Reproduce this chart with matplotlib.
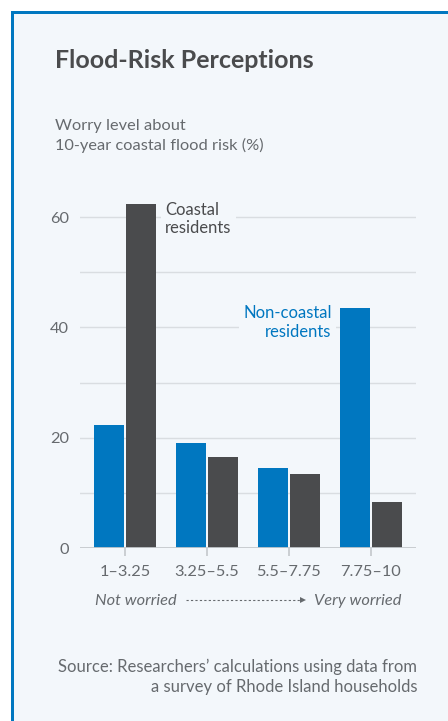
import matplotlib.pyplot as plt
from matplotlib.patches import Rectangle

# data
categorias = ['1–3.25', '3.25–5.5', '5.5–7.75', '7.75–10']
nao_costeiros = [22.3, 19.0, 14.5, 43.5]
costeiros = [62.4, 16.5, 13.4, 8.3]
yticks = [0, 20, 40, 60]

AZUL = '#0077c0'
CINZA_ESCURO = '#4a4b4d'
CINZA_TEXTO = '#666a6e'
FUNDO = '#f3f7fb'

plt.rcParams['font.family'] = ['Lato', 'DejaVu Sans']

W, H = 448, 721
fig = plt.figure(figsize=(W / 100, H / 100), dpi=100)
fig.patch.set_facecolor(FUNDO)

# margem branca e borda azul em cima e a esquerda
fig.patches.append(Rectangle((0, 0), 11 / W, 1, transform=fig.transFigure,
                             facecolor='white', edgecolor='none', zorder=0))
fig.patches.append(Rectangle((0, 1 - 11 / H), 1, 11 / H, transform=fig.transFigure,
                             facecolor='white', edgecolor='none', zorder=0))
fig.patches.append(Rectangle((11 / W, 0), 3 / W, 1 - 11 / H, transform=fig.transFigure,
                             facecolor=AZUL, edgecolor='none', zorder=1))
fig.patches.append(Rectangle((11 / W, 1 - 14 / H), 1, 3 / H, transform=fig.transFigure,
                             facecolor=AZUL, edgecolor='none', zorder=1))

ax_top = 548 - 66 * 5.516
ax = fig.add_axes([80 / W, (H - 548) / H, 336 / W, (548 - ax_top) / H])
ax.set_facecolor('none')
ax.set_zorder(3)

x = range(len(categorias))
largura = 0.366
desl = 0.2
ax.bar([i - desl for i in x], nao_costeiros, width=largura, color=AZUL, zorder=3)
ax.bar([i + desl for i in x], costeiros, width=largura, color=CINZA_ESCURO, zorder=3)

ax.set_xlim(-0.55, 3.55)
ax.set_ylim(0, 66)

for v in [10, 20, 30, 40, 50, 60]:
    ax.axhline(v, color='#d9dde1', lw=1, zorder=1)
ax.axhline(0, color='#c4c8cc', lw=2, zorder=4)

for s in ax.spines.values():
    s.set_visible(False)

ax.set_yticks(yticks)
ax.set_yticklabels([str(t) for t in yticks], fontsize=11.8, color=CINZA_TEXTO)
ax.tick_params(axis='y', length=0, pad=8)
ax.set_xticks(list(x))
ax.set_xticklabels(categorias, fontsize=11.8, color=CINZA_TEXTO)
ax.tick_params(axis='x', length=6, width=1.2, color='#c4c8cc', pad=6)

# rotulos das series
ax.text(0.49, 62.8, 'Coastal\nresidents', fontsize=12, color=CINZA_ESCURO, va='top', ha='left',
        linespacing=1.2, zorder=5,
        bbox=dict(facecolor=FUNDO, edgecolor='none', pad=3))
ax.text(2.52, 44.0, 'Non-coastal\nresidents', fontsize=12, color=AZUL, va='top', ha='right',
        linespacing=1.2, zorder=5,
        bbox=dict(facecolor=FUNDO, edgecolor='none', pad=3))

# titulo e subtitulo
fig.text(55 / W, 1 - 68 / H, 'Flood-Risk Perceptions', fontsize=18, fontweight='bold',
         color='#4a4b4d', va='baseline')
fig.text(55 / W, 1 - 130 / H, 'Worry level about', fontsize=11.8, color=CINZA_TEXTO, va='baseline')
fig.text(55 / W, 1 - 150 / H, '10-year coastal flood risk (%)', fontsize=11.8, color=CINZA_TEXTO,
         va='baseline')

# escala de preocupacao
fig.text(95 / W, 1 - 605 / H, 'Not worried', fontsize=11.8, style='italic', color=CINZA_TEXTO,
         va='baseline')
fig.text(401 / W, 1 - 605 / H, 'Very worried', fontsize=11.8, style='italic', color=CINZA_TEXTO,
         va='baseline', ha='right')
fig.add_artist(plt.Line2D([186 / W, 300 / W], [1 - 600 / H, 1 - 600 / H], transform=fig.transFigure,
                          color=CINZA_TEXTO, lw=0.8, ls=(0, (2, 2))))
fig.add_artist(plt.Polygon([[300 / W, 1 - 597 / H], [306 / W, 1 - 600 / H], [300 / W, 1 - 603 / H]],
                           closed=True, transform=fig.transFigure, color=CINZA_TEXTO, lw=0))

# fonte
fig.text(417 / W, 1 - 672 / H, 'Source: Researchers’ calculations using data from',
         fontsize=12, color=CINZA_TEXTO, ha='right', va='baseline')
fig.text(417 / W, 1 - 692 / H, 'a survey of Rhode Island households',
         fontsize=12, color=CINZA_TEXTO, ha='right', va='baseline')

fig.savefig('out.png', dpi=100)
